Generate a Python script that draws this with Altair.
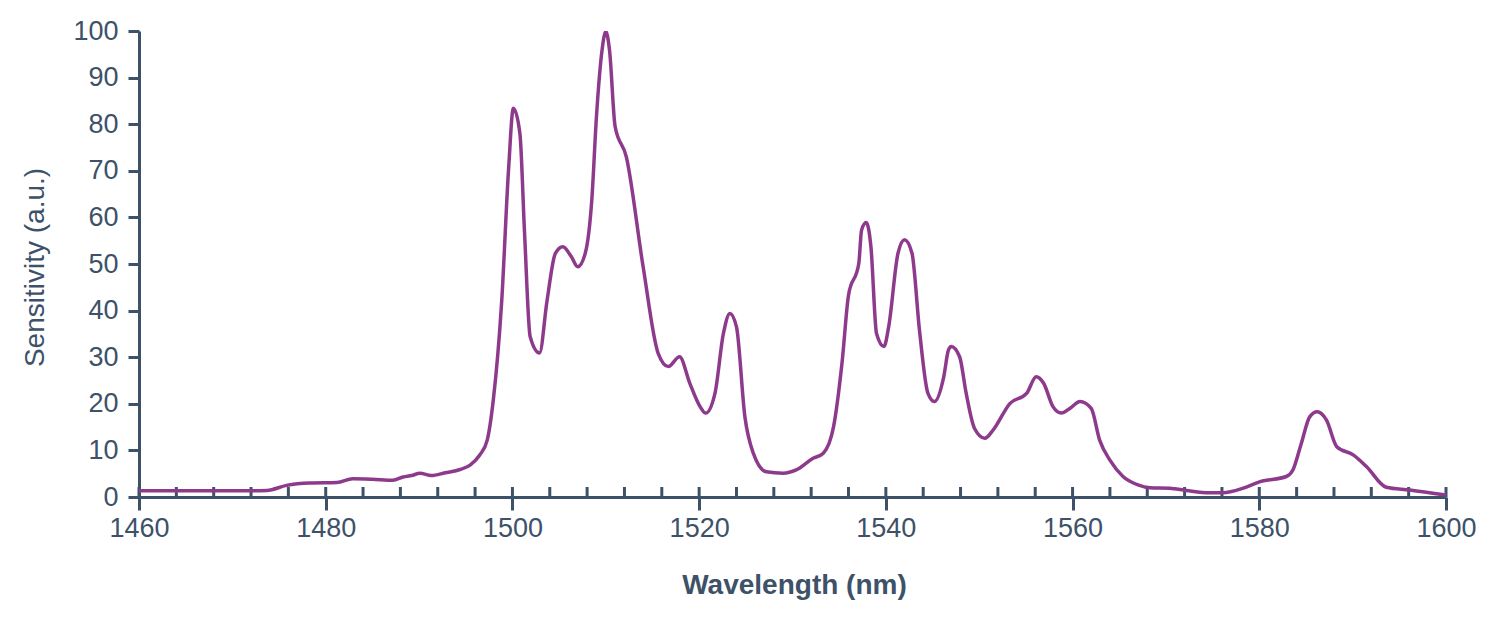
import altair as alt
import pandas as pd

wavelength = [1460, 1464, 1468, 1472, 1473.7, 1475.8, 1478.3, 1481.2, 1482.9, 1485, 1487.2,
              1488.3, 1489.2, 1490.1, 1491.3, 1492.8, 1494.4, 1495.5, 1496.5, 1497.3, 1497.95,
              1498.85, 1499.6, 1500.1, 1500.8, 1501.3, 1501.9, 1502.9, 1503.7, 1504.6, 1505.4,
              1506.3, 1507.0, 1507.8, 1508.5, 1509.0, 1509.6, 1510.0, 1510.4, 1511.0, 1512.2,
              1514.0, 1515.6, 1516.7, 1517.9, 1519.0, 1520.1, 1520.7, 1521.7, 1522.6, 1523.3,
              1524.0, 1524.9, 1525.8, 1527.2, 1529.0, 1530.4, 1532.2, 1533.3, 1534.4, 1535.3,
              1536.0, 1537.1, 1537.4, 1537.9, 1538.4, 1539.0, 1539.8, 1540.3, 1541.3, 1542.0,
              1542.8, 1543.6, 1544.5, 1545.2, 1546.2, 1546.7, 1547.0, 1547.9, 1548.6, 1549.5,
              1550.6, 1551.5, 1553.3, 1555.1, 1556.1, 1556.9, 1557.9, 1558.8, 1559.7, 1560.8,
              1562.0, 1562.9, 1564.0, 1565.4, 1567.0, 1568.3, 1570.4, 1572.2, 1574.7, 1576.1,
              1578.3, 1580.1, 1582.9, 1583.6, 1584.5, 1585.4, 1586.2, 1587.2, 1588.3, 1590.1,
              1591.5, 1593.6, 1596.1, 1600]
sensitivity = [1.35, 1.35, 1.35, 1.35, 1.4, 2.5, 3.0, 3.1, 3.9, 3.8, 3.6,
               4.3, 4.6, 5.1, 4.6, 5.2, 5.9, 6.9, 9.0, 12.2, 20.8,
               42.0, 70.8, 83.4, 78.0, 56.6, 34.4, 30.9, 42.0, 52.3, 53.7,
               51.6, 49.4, 52.3, 63.7, 81.6, 95.9, 99.9, 95.9, 79.5, 73.0,
               49.4, 30.9, 28.0, 30.1, 24.4, 19.4, 18.0, 22.3, 35.1, 39.4,
               36.5, 17.2, 9.4, 5.4, 5.1, 5.8, 8.3, 9.4, 15.1, 28.7,
               43.3, 50.1, 57.3, 58.9, 53.7, 35.1, 32.3, 36.5, 52.3, 55.2,
               52.3, 35.8, 22.3, 20.5, 25.8, 31.5, 32.3, 30.1, 22.3, 14.7,
               12.6, 14.4, 20.1, 22.3, 25.8, 24.4, 19.4, 18.0, 19.0, 20.5,
               19.0, 12.2, 7.9, 4.4, 2.6, 2.0, 1.9, 1.4, 0.9, 0.9,
               1.9, 3.3, 4.4, 5.8, 11.5, 17.2, 18.3, 16.5, 10.8, 9.0,
               6.5, 2.1, 1.5, 0.4]

major_ticks = [1460, 1480, 1500, 1520, 1540, 1560, 1580, 1600]
minor_ticks = [1460 + 4 * i for i in range(36)]
y_ticks = [0, 10, 20, 30, 40, 50, 60, 70, 80, 90, 100]

AXIS = "#3d5168"
LINE = "#8e3a8c"
FONT = "Liberation Sans"

df = pd.DataFrame({"wl": wavelength, "s": sensitivity})
ticks_df = pd.DataFrame({"t": minor_ticks})

W, H = 1307, 466

xscale = alt.Scale(domain=[1460, 1600], nice=False, zero=False)
yscale = alt.Scale(domain=[0, 100], nice=False)

line = alt.Chart(df).mark_line(
    color=LINE, strokeWidth=3.5, interpolate="monotone", clip=True
).encode(
    x=alt.X("wl:Q", scale=xscale,
            axis=alt.Axis(values=major_ticks, title="Wavelength (nm)", format="d",
                          grid=False, domainColor=AXIS, domainWidth=3,
                          tickColor=AXIS, tickWidth=3, tickSize=13,
                          labelColor=AXIS, labelFont=FONT, labelFontSize=27,
                          labelPadding=5, labelFlush=False,
                          titleColor=AXIS, titleFont=FONT, titleFontSize=28,
                          titleFontWeight="bold", titleX=655, titleY=96,
                          titleBaseline="alphabetic", titleAlign="center")),
    y=alt.Y("s:Q", scale=yscale,
            axis=alt.Axis(values=y_ticks, title="Sensitivity (a.u.)",
                          grid=False, domainColor=AXIS, domainWidth=3,
                          tickColor=AXIS, tickWidth=3, tickSize=11,
                          labelColor=AXIS, labelFont=FONT, labelFontSize=27,
                          labelPadding=10, labelFlush=False,
                          titleColor=AXIS, titleFont=FONT, titleFontSize=28,
                          titleFontWeight="normal", titleX=-104, titleY=236,
                          titleBaseline="middle", titleAlign="center", titleAngle=270)),
)

minor = alt.Chart(ticks_df).mark_rule(color=AXIS, strokeWidth=3).encode(
    x=alt.X("t:Q", scale=xscale),
    y=alt.value(H),
    y2=alt.value(H - 10),
)

chart = alt.layer(minor, line).properties(
    width=W, height=H,
    background="white",
    autosize=alt.AutoSizeParams(type="none"),
    padding={"left": 131, "top": 23, "right": 46, "bottom": 115},
).configure_view(stroke=None)

chart.save("out.html", embed_options={"renderer": "svg", "actions": False})
